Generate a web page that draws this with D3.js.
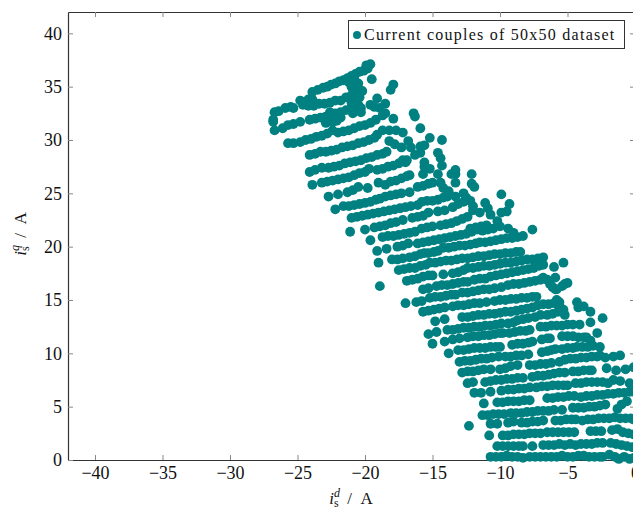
<!DOCTYPE html>
<html>
<head>
<meta charset="utf-8">
<script src="https://cdnjs.cloudflare.com/ajax/libs/d3/7.8.5/d3.min.js"></script>
<style>
  body { margin: 0; background: #fff; }
  text { font-family: "Liberation Serif", serif; fill: #111; }
</style>
</head>
<body>
<div id="chart"></div>
<script>
var xTicks = [-40, -35, -30, -25, -20, -15, -10, -5, 0];
var yTicks = [0, 5, 10, 15, 20, 25, 30, 35, 40];
var legendLabel = "Current couples of 50x50 dataset";

// current couples, [i_d, i_q]
var lowerRows = [
  [-10.7,.3],[-10.3,.3],[-9.9,.3],[-9.5,.4],[-9.1,.3],[-8.7,.3],[-8.3,.2],[-7.8,.3],[-7.4,.3],[-7,.3],[-6.6,.3],[-6.2,.3],[-5.8,.3],[-5.4,.4],[-5,.3],[-4.6,.3],[-4.2,.4],[-3.8,.4],[-3.4,.3],[-3,.3],[-2.6,.3],[-2.4,.3],[-1.9,.5],[-1.5,.3],[-1.2,.1],[-.8,.3],[-.4,.1],[-.1,.2],
  [-10.2,1.3],[-9.8,1.3],[-9.4,1.3],[-9,1.3],[-8.6,1.3],[-8.3,1.3],[-7.6,1.3],[-6.8,1.4],[-6.4,1.4],[-6,1.4],[-5.6,1.5],[-5.2,1.4],[-4.8,1.5],[-4.4,1.4],[-4,1.5],[-3.6,1.5],[-3.2,1.5],[-2.8,1.6],[-2.4,1.6],[-1.8,1.6],[-1.4,1.5],[-1,1.4],[-.6,1.3],[-.2,1.2],
  [-10.8,2.3],[-9.8,2.3],[-9.4,2.3],[-9,2.4],[-8.6,2.4],[-8.2,2.4],[-7.8,2.5],[-7.4,2.5],[-7,2.5],[-6.5,2.6],[-6.1,2.6],[-5.7,2.6],[-5.3,2.6],[-4.9,2.6],[-4.5,2.6],[-3.3,2.7],[-2.9,2.7],[-2.5,2.7],[-1.7,2.8],[-1.3,2.9],[-.9,2.6],[-.5,2.5],[-.1,2.4],
  [-12.3,3.2],[-10.7,3.4],[-10.2,3.4],[-9.4,3.5],[-9,3.6],[-8.4,3.5],[-8,3.5],[-7.6,3.6],[-7.2,3.6],[-6.8,3.7],[-5.9,3.7],[-5.5,3.7],[-5.1,3.8],[-4.7,3.8],[-4.4,3.8],[-3.9,3.7],[-3.5,3.8],[-3.1,3.8],[-2.7,3.9],[-2.3,3.9],[-1.9,3.9],[-1.5,4],[-1.1,3.9],[-.7,3.9],[-.3,3.9],[-.1,3.8],
  [-11.3,4.2],[-10.9,4.2],[-10.5,4.3],[-10.1,4.3],[-9.7,4.3],[-9.2,4.4],[-8.8,4.4],[-8.4,4.4],[-8,4.5],[-7.6,4.5],[-7.2,4.6],[-6.8,4.6],[-6.4,4.6],[-6,4.7],[-5.4,4.7],[-4.6,4.9],[-4.2,4.9],[-3.8,4.9],[-3.4,5],[-3,5],[-2.6,5.1],[-2.2,5.2],[-1.3,4.8],[-1,5.2],[-.6,5.5],
  [-11.2,5.3],[-10.2,5.4],[-9.8,5.4],[-9.4,5.5],[-9,5.5],[-8.6,5.5],[-8.2,5.6],[-7.8,5.6],[-6.5,5.8],[-6.1,5.8],[-5.7,5.9],[-5.3,5.9],[-4.9,6],[-4.5,6],[-4,5.9],[-3.6,6],[-3.2,6],[-2.8,6.1],[-2.4,6.1],[-2,6.2],[-1.6,6.2],[-1.2,6.3],[-.8,6.3],[-.4,6.4],[-.1,6.4],
  [-11.9,6.3],[-11.4,6.3],[-10.7,6.4],[-9.9,6.5],[-9.4,6.6],[-9,6.6],[-8.6,6.7],[-8.2,6.7],[-7.8,6.8],[-7.3,6.8],[-6.9,6.9],[-6.5,6.9],[-6.1,7],[-5.7,7],[-5.3,7],[-5,7],[-4.4,7.2],[-4,7.2],[-3.6,7.3],[-3.2,7.3],[-2.8,7.3],[-2.4,7.3],[-2,7.2],[-1.6,7.5],[-1.1,7.4],[-.4,7.2],
  [-12.4,7.2],[-12,7.3],[-11.1,7.3],[-10.7,7.4],[-10.3,7.5],[-9.9,7.5],[-9.5,7.6],[-9.1,7.6],[-8.7,7.7],[-8.3,7.7],[-7.6,7.8],[-7.2,7.9],[-6.8,7.9],[-6.4,8],[-6,8.1],[-5.6,8.2],[-5.2,8.2],[-4.6,8.3],[-4.2,8.3],[-3.8,8.4],[-3.4,8.4],[-3.2,8.4],[-2.1,8.6],[-1.4,8.4],[-.7,8.5],[-.1,8.7]
];

var middleRows = [
  [-12.8,8.2],[-12.4,8.3],[-12,8.3],[-11.6,8.4],[-11.2,8.5],[-10.7,8.5],[-10,8.5],[-9.6,8.6],[-9.2,8.8],[-8.7,8.9],[-7.8,8.9],[-7.4,8.9],[-7,9],[-6.6,9],[-6.2,9.1],[-5.6,9.2],[-5.2,9.4],[-4.8,9.5],[-4.4,9.5],[-4,9.6],[-3.6,9.6],[-3.2,9.7],[-2.8,9.7],[-2.6,9.8],[-2.2,9.6],[-1.6,9.7],[-1.1,9.8],
  [-13,9.2],[-12.6,9.3],[-12.2,9.3],[-11.8,9.4],[-11.4,9.5],[-11,9.5],[-10.6,9.6],[-10.1,9.7],[-9.6,9.7],[-9.2,9.7],[-8.8,9.8],[-8.4,9.8],[-7.9,9.9],
  [-13.8,10],[-13.1,10.3],[-12.7,10.3],[-12.3,10.4],[-11.9,10.5],[-11.5,10.5],[-11.1,10.5],[-10.7,10.6],[-10.3,10.6],[-10,10.6],[-9.1,10.8],[-8.7,10.9],[-8.3,10.9],[-7.9,11],[-7.6,11.1],[-6.9,10.1],[-6.5,10.2],[-6.2,10.3],[-5.9,10.4],[-5.4,10.4],[-5,10.5],[-4.6,10.5],[-4.3,10.6],[-3.9,10.6],[-3.5,10.6],[-3.1,10.7],[-2.6,10.6],[-3.3,11.2],[-2.8,11.9],
  [-15,10.9],[-14.1,11.1],[-13.5,11.3],[-13,11.4],[-12.4,11.5],[-12,11.6],[-11.6,11.6],[-11.2,11.7],[-10.8,11.7],[-10.4,11.8],[-10,11.9],[-9.8,11.9],[-9.3,11.9],[-8.9,12],[-8.5,12.1],[-8.1,12.1],[-7.8,12.2],[-6.9,11.3],[-6.5,11.4],[-6.3,11.4],[-5.4,11.6],[-5,11.6],[-4.6,11.6],[-4.2,11.5],[-3.8,11.5],[-3.6,11.5],
  [-15.3,11.8],[-14.7,12],[-13.9,12.2],[-13.5,12.2],[-13.1,12.3],[-12.7,12.4],[-12.3,12.4],[-11.9,12.5],[-11.5,12.5],[-11.1,12.6],[-10.7,12.6],[-10.3,12.7],[-9.9,12.8],[-9.4,12.8],[-9,12.9],[-8.7,13.1],[-8.3,13.2],[-7.9,13.3],[-7.4,13.4],[-7,13.6],[-7,12.5],[-6.6,12.5],[-6.2,12.6],[-5.8,12.6],[-5.4,12.6],[-5,12.7],[-4.6,12.7],[-4.1,12.7],[-3.3,12.9],[-2.4,13.3],
  [-14.8,13],[-14.1,13.2],[-12.8,13.4],[-12.4,13.4],[-12,13.5],[-11.6,13.6],[-11.2,13.6],[-10.8,13.7],[-10.4,13.7],[-10,13.8],[-9.6,13.9],[-9.2,13.9],[-8.8,14],[-8.4,14.1],[-8,14.2],[-7.6,14.3],[-7.2,14.5],[-6.8,14.6],[-6.4,14.6],[-6,14.7],[-5.6,14.8],[-6.5,13.6],[-6.1,13.7],[-5.7,13.9],[-5.3,13.9],[-5.2,13.6],
  [-15.7,13.9],[-15.3,14],[-14.9,14.1],[-14.5,14.2],[-14.1,14.3],[-13.5,14.4],[-13.1,14.5],[-12.7,14.5],[-12.3,14.6],[-11.9,14.7],[-11.5,14.7],[-11,14.8],[-10.4,14.9],[-10,15],[-9.6,15],[-9.2,15.1],[-8.8,15.1],[-8.4,15.2],[-8,15.2],[-7.6,15.3],[-7.3,15.3],[-4.3,14.8],[-4.2,14.3],[-3.8,14.4],[-3.3,13.9],
  [-17,14.7],[-16.2,14.8],[-15.8,14.9],
  [-15.2,15.2],[-14.8,15.3],[-14.4,15.3],[-14,15.4],[-13.6,15.5],[-13.3,15.5],[-12.8,15.7],[-12.4,15.7],[-12,15.8],[-11.6,15.9],[-11.2,16],[-10.8,16],[-10.4,16.1],[-9.9,16.2],[-9.4,16.4],[-9,16.5],[-8.6,16.5],[-8.2,16.6],[-7.8,16.7],[-7.4,16.8],[-7,16.9],[-6.8,17.1],[-6.5,16.9],[-6.3,16.5],[-6.1,16.2],[-5.9,16],[-5.8,16],[-5.4,16.3],[-5.2,16.5],[-5,16.6],[-5.9,17.1],[-5.8,15],[-5.6,14.5],[-5.3,14.1],
  [-15.7,16],[-15.3,16.1],[-14.7,16.3],[-14.3,16.4],[-13.9,16.4],[-13.5,16.5],[-13.1,16.6],[-12.7,16.7],[-12.4,16.7],[-11.9,16.9],[-11.5,17],[-11.1,17],[-10.7,17.2],[-10.3,17.3],[-9.9,17.4],[-9.5,17.5],[-9.1,17.6],[-8.7,17.7],[-8.3,17.8],[-7.9,17.9],[-7.5,18],[-7.1,18.2],[-6.8,18.3],[-6,18.1],[-5.3,18.5],[-18.9,16.3],
  [-16.9,16.8],[-16.5,16.9],[-16.1,17],[-15.7,17.2],[-15.3,17.3],[-15,17.3],[-14.2,17.4],[-13.5,17.5],[-13.1,17.6],[-12.7,17.8],[-12.4,18],[-12,18],[-11.6,18.1],[-11.2,18.2],[-10.8,18.2],[-10.4,18.3],[-10,18.4],[-9.6,18.5],[-9.2,18.5],[-8.8,18.6],[-8.4,18.7],[-8,18.8],[-7.6,18.8],[-7.2,18.9],[-6.8,19]
];

var upperRows = [
  [-17.5,17.8],[-17.1,17.9],[-16.7,18],[-16.3,18],[-15.9,18.2],[-15.5,18.3],[-15.2,18.5],[-14.8,18.5],[-14.4,18.6],[-14,18.7],[-13.6,18.7],[-13.2,18.8],[-12.8,18.9],[-12.4,18.9],[-12,19],[-11.6,19.1],[-11.2,19.1],[-10.8,19.2],[-10.4,19.3],[-10,19.3],[-9.6,19.4],[-9.2,19.4],[-8.8,19.5],[-8.5,19.5],[-19,18.5],
  [-18,18.8],[-17.6,18.8],[-17.2,18.9],[-16.7,19],[-16.3,19.1],[-15.9,19.3],[-15.6,19.4],[-15.3,19.4],[-14.9,19.5],[-14.6,19.6],[-14.2,19.9],[-13.8,19.9],[-13.4,20],[-13,20.1],[-12.6,20.1],[-12.2,20.2],[-11.8,20.3],[-11.5,20.4],[-11.1,20.4],[-10.7,20.5],[-10.3,20.6],[-9.9,20.7],[-9.5,20.8],[-9.1,20.8],[-8.7,20.9],[-8.3,21],[-19.1,19.6],[-18.4,19.8],
  [-17.6,20],[-17.2,20.1],[-16.8,20.3],[-16.1,20.3],[-15.7,20.4],[-15.3,20.5],[-14.9,20.6],[-14.5,20.7],[-14.1,20.8],[-13.7,20.9],[-13.3,21],[-12.9,21.1],[-12.5,21.2],[-12.1,21.4],[-11.7,21.6],[-11.3,21.5],[-10.9,21.6],[-10.5,21.7],[-19.6,20.6],[-7.6,21.6],
  [-18.7,20.9],[-18.3,21],[-17.9,21],[-17.5,21.1],[-17.1,21.2],[-16.7,21.3],[-16.3,21.4],[-15.8,21.7],[-15.4,21.8],[-15,21.9],[-14.4,22],[-14,22.1],[-13.6,22.2],[-13.2,22.4],[-12.8,22.6],[-12.4,22.8],[-12.2,21.7],[-11.8,21.8],[-11.4,21.9],[-11,22],[-21.1,21.4],[-20,21.6],
  [-19.3,21.8],[-18.9,21.9],[-18.5,22],[-18.1,22.2],[-17.7,22.3],[-17.2,22.5],[-16.5,22.7],[-16.1,22.8],[-15.7,22.9],[-15.3,23.2],[-14.6,23.3],[-14.1,23.4],
  [-21,22.7],[-20.6,22.8],[-20.2,22.9],[-19.8,23],[-19.4,23.1],[-19,23.2],[-18.6,23.3],[-18.2,23.4],[-17.8,23.5],[-17.4,23.6],[-17,23.7],[-16.6,23.8],[-16.1,23.9],[-15.8,24.2],[-15.4,24.3],[-15,24.3],[-14.6,24.4],[-14.2,24.6],[-13.9,24.7],
  [-22.2,23.5],[-21.6,23.8],[-21.2,23.8],[-20.8,23.9],[-20.4,24],[-20,24.1],[-19.6,24.2],[-19.2,24.4],[-18.9,24.5],[-18.5,24.7],[-18.1,24.8],[-17.7,24.9],[-17.3,25],[-16.7,25.1],
  [-22.7,24.7],[-22,24.9],[-21.3,25.1],[-20.9,25.3],[-20.5,25.6],[-19.8,25.5],[-19,26],[-18.5,25.8],[-18.1,26.1],[-17.7,26.2],[-17.3,26.4],[-16.9,26.6],[-16.7,26.7],[-16.1,25.6],[-15.7,25.7],[-15.3,25.9],[-15,26],
  [-23.9,25.8],[-23.2,26],[-22.8,26.1],[-22.4,26.2],[-22,26.3],[-21.6,26.4],[-21.2,26.5],[-20.8,26.7],[-20.4,26.9],[-20,27],[-19.7,27.3],
  [-24.1,27],[-23.7,27.2],[-23.2,27.4],[-22.7,27.4],[-22.3,27.5],[-21.9,27.6],[-21.5,27.8],[-21.1,27.9],[-20.7,28],[-20.3,28.1],[-19.9,28.3],[-19.5,28.4],[-19.1,28.6],[-18.7,28.7],[-18.4,28.9],[-19.1,27.2],[-18.7,27.3],[-18.3,27.5],[-17.9,27.6],[-17.5,27.8],[-17.1,28],[-16.9,28.1],
  [-24.1,28.6],[-23.7,28.7],[-23.3,28.9],[-22.9,28.9],[-22.5,29],[-22.1,29.1],[-21.7,29.3],[-21.3,29.4],[-20.9,29.5],[-20.5,29.7],[-20.1,29.8],[-19.7,30],[-19.3,30.2],[-19.1,30.5],
  [-24.8,29.8],[-24.4,30],[-24,30.1],[-23.6,30.3],[-23.2,30.4],[-22.8,30.6],[-22.4,30.9],[-22,30.7],[-21.6,30.8],[-21.2,30.9],[-20.8,31.1],[-20.4,31.3],[-20,31.4],[-19.6,31.6],[-19.2,31.9],[-18.7,32.3],
  [-24.1,31.9],[-23.7,32],[-23.3,32.1],[-22.9,32.2],[-22.5,32.1],[-22.2,32.5],[-21.8,32.6],[-21.4,32.8],[-21,32.9],[-20.6,33.1],[-22.4,32.3],[-22.6,32.1],[-22.8,31.8],[-22.1,31.8],[-22.6,32.6],[-22,32.1],[-22.9,31.6],[-22.4,31.7],[-21.8,32.1],
  [-24.6,33.3],[-24.2,33.2],[-24.8,33.7],[-23.8,33.2],[-23.4,33.4],[-23,33.4],[-22.6,33.5],[-22.2,33.7],[-21.8,33.7],[-21.4,34],[-21,34.2],[-20.6,34.5],[-20.2,34.6],[-24.2,33.8],[-23.9,33.8],
  [-21.1,35.4],[-21,35],[-20.8,34.5],[-20.7,34],[-21,33.5],[-20.7,33.4],[-20.5,32.8],[-21,33],[-20.5,33.3],[-20.8,35.8],[-20.9,34.8],[-20.4,34],[-20.9,32.5],[-20.3,33],[-20.5,35.3],[-20.3,32.6],[-21.2,35.4],
  [-23.9,34.5],[-23.5,34.7],[-23.1,34.9],[-22.8,35],[-22.5,35.2],[-22.2,35.3],[-21.9,35.5],[-21.6,35.6],[-21.3,35.8],[-21,36],[-20.7,36.2],[-20.4,36.4],[-20.1,36.5],[-19.8,36.7],[-19.9,37],[-19.6,37.1],
  [-26.7,32.6],[-26.4,32.7],[-25.9,33],[-25.5,33.1],[-25.3,33],[-26.8,31.9],[-26.8,31.7],[-26.7,30.9],[-26.1,31.1],[-25.7,31.4],[-25.3,31.5],[-24.8,31.7],[-25.7,29.7],[-25.3,29.7]
];

// loose points along the upper right edge
var edgePoints = [
  [-19.5,35.7],[-19.1,33.9],[-18.5,33.4],[-18.1,34.7],[-17.9,35.2],[-19.6,33.3],[-19.3,33.1],[-18.9,33],[-18.5,32.5],[-17.9,32],[-16.4,32.5],[-16.3,32.2],[-15.9,31.1],
  [-15.2,30.2],[-15.6,29.5],[-15.9,29.4],[-14.3,30],[-18.7,30.9],[-18.2,30.9],[-17.7,30.9],[-17.2,30.7],[-18.2,29.9],[-17.8,29.6],[-17.3,29.3],[-16.8,29.9],[-16.6,29.3],[-16.3,28.6],[-15.9,28.8],
  [-17.2,28.1],[-17,27.9],[-15.6,27.9],[-15.6,27.5],[-15.7,26.8],[-15.2,27.3],[-14.6,28.8],[-14.4,28.3],[-14.3,27.6],[-14.6,26.8],[-14.4,26],[-13.3,27.2],[-13.6,26.8],[-13.3,26.8],[-13.3,26],[-12.1,26.8],[-12.1,25.9],[-11.9,25.6],[-14.2,25.5],[-13.8,25.2],[-13.3,24.7],
  [-12.7,25],[-12.5,24.6],[-12.2,24.3],[-12,23.8],[-12,23.4],[-13.5,23.7],[-13.1,24],[-12.7,24.2],[-9.9,24.9],[-9.3,24],[-9.5,23.3],[-9.9,23.2],[-11.1,24.1],[-10.9,23.6],[-10.7,23],[-11.5,23.2],[-10.2,22.4],[-10,21.9],[-9.4,21.7],[-9,21.3]
];

var points = lowerRows.concat(middleRows, upperRows, edgePoints);

var width = 633, height = 510;
var plotLeft = 68, plotRight = 635, plotTop = 12, plotBottom = 460;
var frameColor = "#333", tickColor = "#888", dotColor = "#008080";

var svg = d3.select("#chart").append("svg")
  .attr("width", width)
  .attr("height", height)
  .style("display", "block");

var x = d3.scaleLinear().domain([-42, 0]).range([plotLeft, plotRight]);
var y = d3.scaleLinear().domain([0, 42]).range([plotBottom, plotTop]);

svg.append("g")
  .attr("transform", "translate(0," + plotBottom + ")")
  .call(d3.axisBottom(x).tickValues(xTicks).tickSizeInner(-5).tickSizeOuter(0).tickPadding(6));
svg.append("g")
  .attr("transform", "translate(0," + plotTop + ")")
  .call(d3.axisTop(x).tickValues(xTicks).tickSizeInner(-5).tickSizeOuter(0).tickFormat(""));
svg.append("g")
  .attr("transform", "translate(" + plotLeft + ",0)")
  .call(d3.axisLeft(y).tickValues(yTicks).tickSizeInner(-5).tickSizeOuter(0).tickPadding(6));
svg.append("g")
  .attr("transform", "translate(" + plotRight + ",0)")
  .call(d3.axisRight(y).tickValues(yTicks).tickSizeInner(-5).tickSizeOuter(0).tickFormat(""));

svg.selectAll(".domain").attr("stroke", frameColor).attr("stroke-width", 1.2);
svg.selectAll(".tick line").attr("stroke", tickColor).attr("stroke-width", 1);
svg.selectAll(".tick text").style("font-family", '"Liberation Serif", serif').style("font-size", "18px").attr("fill", "#111");

svg.append("g")
  .selectAll("circle")
  .data(points)
  .enter()
  .append("circle")
  .attr("cx", function(d) { return x(d[0]); })
  .attr("cy", function(d) { return y(d[1]); })
  .attr("r", 4.9)
  .attr("fill", dotColor);

// axis labels, i with sub and superscript
function axisLabel(el, sup) {
  el.attr("text-anchor", "middle").style("font-size", "17px");
  el.append("tspan").style("font-style", "italic").text("i");
  el.append("tspan").style("font-size", "12px").style("font-style", "italic").attr("dy", -7).text(sup);
  el.append("tspan").style("font-size", "12px").attr("dx", -6).attr("dy", 10).text("s");
  el.append("tspan").attr("dy", -3).text("\u2002/\u2002A");
}

axisLabel(svg.append("text").attr("x", 351).attr("y", 504), "d");
axisLabel(svg.append("text").attr("transform", "translate(26,234) rotate(-90)"), "q");

// legend box sits on top of the dots
var legend = svg.append("g");
legend.append("rect")
  .attr("x", 348.5).attr("y", 20.5)
  .attr("width", 276).attr("height", 28)
  .attr("fill", "#fff").attr("stroke", frameColor).attr("stroke-width", 1);
legend.append("circle")
  .attr("cx", 357).attr("cy", 35).attr("r", 4)
  .attr("fill", dotColor);
legend.append("text")
  .attr("x", 364).attr("y", 40)
  .style("font-size", "16px")
  .style("letter-spacing", "1.25px")
  .text(legendLabel);
</script>
</body>
</html>
